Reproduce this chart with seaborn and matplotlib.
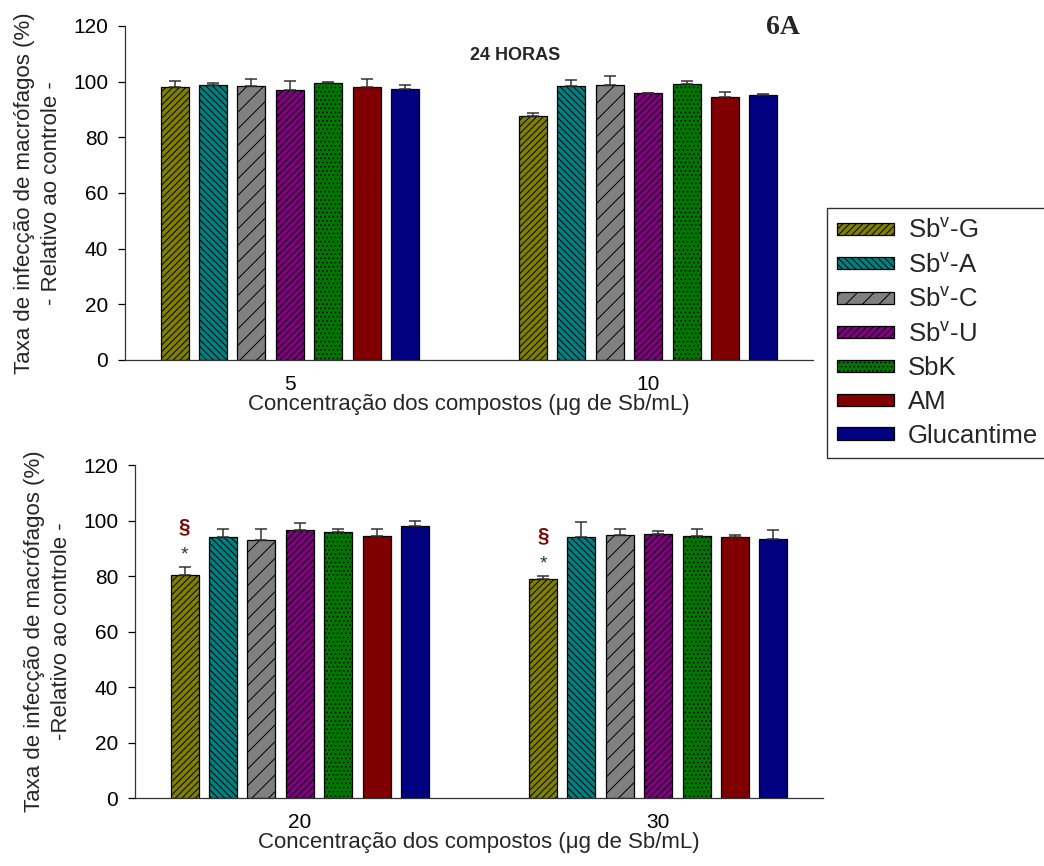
"""
Taxa de infecção de macrófagos, 24 horas (painel 6A)
"""

import numpy as np
import matplotlib
matplotlib.use("Agg")
import matplotlib.pyplot as plt
import seaborn as sns
import pandas as pd

# -------------------------
# DATA
# -------------------------
compounds = ["Sb$^\\mathregular{v}$-G", "Sb$^\\mathregular{v}$-A", "Sb$^\\mathregular{v}$-C",
             "Sb$^\\mathregular{v}$-U", "SbK", "AM", "Glucantime"]

conc_top = ["5", "10"]
mean_top_5 = [98.1, 98.9, 98.6, 97.0, 99.6, 98.1, 97.5]
err_top_5 = [2.1, 0.6, 2.4, 3.1, 0.3, 2.9, 1.2]
mean_top_10 = [87.6, 98.6, 98.9, 96.0, 99.2, 94.5, 95.1]
err_top_10 = [1.1, 1.9, 3.1, 0.1, 0.9, 1.7, 0.4]

conc_bot = ["20", "30"]
mean_bot_20 = [80.2, 94.0, 93.1, 96.5, 95.7, 94.4, 98.1]
err_bot_20 = [3.0, 2.8, 3.8, 2.7, 1.1, 2.7, 1.7]
mean_bot_30 = [79.0, 93.9, 94.8, 95.1, 94.5, 94.1, 93.4]
err_bot_30 = [1.0, 5.5, 2.1, 1.1, 2.5, 0.7, 3.3]

colors = ["#808000", "#008080", "#808080", "#800080", "#007800", "#800000", "#000080"]
hatches = ["/////", "\\\\\\\\\\", "//", "/////", "....", "", ""]

FONT = "Liberation Sans"
YLABEL_TOP = "Taxa de infecção de macrófagos (%)\n- Relativo ao controle -"
YLABEL_BOT = "Taxa de infecção de macrófagos (%)\n-Relativo ao controle -"
XLABEL = "Concentração dos compostos (μg de Sb/mL)"

sns.set_theme(style="ticks")
plt.rcParams["font.family"] = [FONT, "DejaVu Sans"]
plt.rcParams["mathtext.fontset"] = "custom"
plt.rcParams["mathtext.rm"] = FONT
plt.rcParams["hatch.linewidth"] = 0.7
plt.rcParams["hatch.color"] = "black"


def long_frame(concs, means, errs):
    rows = []
    for c, m_list, e_list in zip(concs, means, errs):
        for comp, m, e in zip(compounds, m_list, e_list):
            rows.append({"conc": c, "compound": comp, "value": m, "err": e})
    return pd.DataFrame(rows)


def draw_panel(ax, df, ylabel):
    sns.barplot(data=df, x="conc", y="value", hue="compound", hue_order=compounds,
                palette=colors, saturation=1, width=0.75, gap=0.27, errorbar=None,
                edgecolor="black", linewidth=0.9, legend=False, ax=ax)
    bars = list(ax.containers)
    for i, cont in enumerate(bars):
        sub = df[df["compound"] == compounds[i]]
        xs, ys = [], []
        for patch in cont.patches:
            patch.set_hatch(hatches[i])
            xs.append(patch.get_x() + patch.get_width() / 2)
            ys.append(patch.get_height())
        errs = sub["err"].to_numpy()
        ax.errorbar(xs, ys, yerr=[np.zeros_like(errs), errs], fmt="none",
                    ecolor="#333333", elinewidth=1.1, capsize=4.5, capthick=1.1, zorder=1)
    ax.set_xlim(-0.46, 1.46)
    ax.set_ylim(0, 120)
    ax.set_yticks(np.arange(0, 121, 20))
    ax.tick_params(axis="y", length=5, width=0.9, labelsize=15, pad=7, colors="black")
    ax.tick_params(axis="x", length=0, labelsize=15, pad=11, colors="black")
    ax.set_ylabel(ylabel, fontsize=16, labelpad=8, linespacing=1.35)
    ax.set_xlabel(XLABEL, fontsize=16, labelpad=0)
    sns.despine(ax=ax)
    for s in ["left", "bottom"]:
        ax.spines[s].set_color("#333333")
        ax.spines[s].set_linewidth(0.9)
    return bars


fig = plt.figure(figsize=(10.44, 8.66), dpi=100)
ax_top = fig.add_axes([0.1197, 0.5843, 0.6590, 0.3857])
ax_bot = fig.add_axes([0.1293, 0.0785, 0.6590, 0.3845])

df_top = long_frame(conc_top, [mean_top_5, mean_top_10], [err_top_5, err_top_10])
df_bot = long_frame(conc_bot, [mean_bot_20, mean_bot_30], [err_bot_20, err_bot_30])

bars_top = draw_panel(ax_top, df_top, YLABEL_TOP)
bars_bot = draw_panel(ax_bot, df_bot, YLABEL_BOT)

# significance marks above Sbv-G in the lower panel
g_errs = df_bot[df_bot["compound"] == compounds[0]]["err"].to_numpy()
for patch, e in zip(bars_bot[0].patches, g_errs):
    xc = patch.get_x() + patch.get_width() / 2
    top = patch.get_height() + e
    ax_bot.text(xc, top + 4.5, "*", ha="center", va="center", fontsize=14, color="#333333")
    ax_bot.text(xc, top + 14.5, "§", ha="center", va="center", fontsize=15,
                fontweight="bold", color="#7a0a0a")

ax_top.text(0.567, 0.913, "24 HORAS", transform=ax_top.transAxes, ha="center",
            va="center", fontsize=13, fontweight="bold")
fig.text(783 / 1044, 1 - 27 / 866, "6A", ha="center", va="center", fontsize=20,
         fontweight="bold", family="Liberation Serif")

fig.legend(bars_top, compounds, loc="upper left",
           bbox_to_anchor=(827 / 1044, 1 - 208 / 866), borderaxespad=0,
           fontsize=18.5, frameon=True, fancybox=False, edgecolor="#333333",
           framealpha=1, handlelength=2.2, handleheight=0.35, handletextpad=0.55,
           labelspacing=0.38, borderpad=0.4)

plt.savefig("out.png", dpi=100)
plt.close()
